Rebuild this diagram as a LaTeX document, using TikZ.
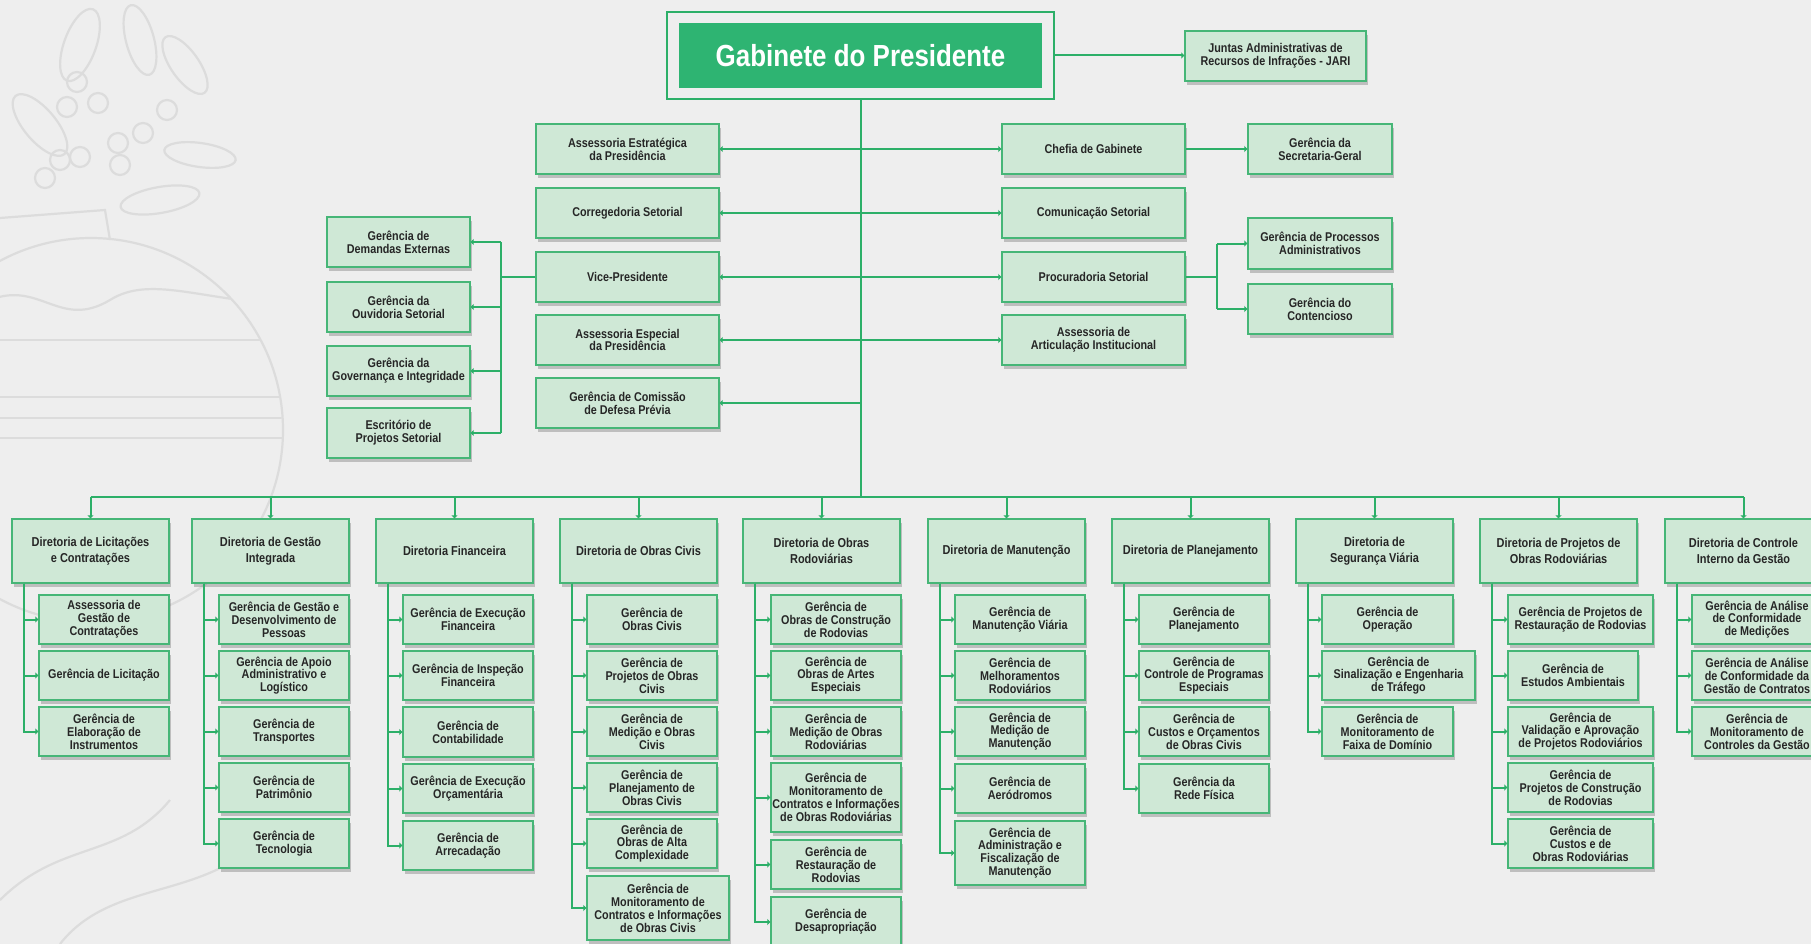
\documentclass[tikz,border=0pt]{standalone}
\usepackage{fontspec}
\setmainfont{Liberation Sans}[FakeStretch=0.85]
\usetikzlibrary{arrows.meta,shadows,calc}
\definecolor{bg}{HTML}{EEEEEE}
\definecolor{boxfill}{HTML}{CFE8D6}
\definecolor{boxline}{HTML}{46B677}
\definecolor{conn}{HTML}{2CAF68}
\definecolor{gabfill}{HTML}{2EB472}
\definecolor{txt}{HTML}{262626}
\definecolor{orn}{HTML}{DCDCDC}
\newcommand\ubox[7]{\node[#1,minimum width=#5pt,minimum height=#6pt] (#2) at ({#3+#5/2},{#4+#6/2}) {#7};}
\newcommand\spine[2]{\draw[tip] ($(#1.south west)+(13,0)$) |- (#2.west);}
\begin{document}
\begin{tikzpicture}[x=1pt,y=-1pt,
  box/.style={draw=boxline,fill=boxfill,line width=1.2pt,inner sep=0pt,align=center,text=txt,
    font=\bfseries\fontsize{12.7}{12.9}\selectfont,
    drop shadow={shadow xshift=2pt,shadow yshift=-4pt,opacity=0.2,fill=black}},
  dirbox/.style={box,font=\bfseries\fontsize{12.9}{16}\selectfont},
  link/.style={draw=conn,line width=2pt},
  tip/.style={link,-{Triangle[length=3pt,width=6pt]}},
  ornline/.style={draw=orn,line width=2.2pt}
]
\useasboundingbox (0,0) rectangle (1811,944);
\fill[bg] (0,0) rectangle (1811,944);

% faint ornament
\begin{scope}
  \draw[ornline] (91,430) circle[radius=192pt];
  \begin{scope}
    \clip (91,430) circle[radius=191pt];
    \draw[ornline] (-120,340) -- (300,340);
    \draw[ornline] (-120,397) -- (300,397);
    \draw[ornline] (-120,418) -- (300,418);
    \draw[ornline] (-120,438) -- (300,438);
    \draw[ornline] (-10,300) .. controls (40,280) and (60,330) .. (110,300) .. controls (150,275) and (200,300) .. (290,305);
  \end{scope}
  \draw[ornline] (0,218) -- (105,210) -- (110,240);
  \foreach \p in {(77,82),(98,103),(67,107),(60,160),(80,157),(118,143),(143,133),(167,110),(45,178),(120,165)}
    {\draw[ornline] \p circle[radius=10pt];}
  \draw[ornline,rotate around={-20:(80,45)}] (80,45) ellipse[x radius=16pt,y radius=38pt];
  \draw[ornline,rotate around={15:(140,40)}] (140,40) ellipse[x radius=14pt,y radius=36pt];
  \draw[ornline,rotate around={40:(40,125)}] (40,125) ellipse[x radius=16pt,y radius=38pt];
  \draw[ornline,rotate around={35:(185,65)}] (185,65) ellipse[x radius=14pt,y radius=34pt];
  \draw[ornline,rotate around={-8:(200,155)}] (200,155) ellipse[x radius=36pt,y radius=12pt];
  \draw[ornline,rotate around={10:(160,200)}] (160,200) ellipse[x radius=40pt,y radius=13pt];
  \draw[ornline] (0,900) .. controls (60,840) and (120,860) .. (170,800);
  \draw[ornline] (60,944) .. controls (110,880) and (200,900) .. (260,840);
\end{scope}

% Gabinete
\node[draw=conn,line width=1.8pt,minimum width=387pt,minimum height=87pt,inner sep=0pt] (gabf) at (860.5,55.5) {};
\node[fill=gabfill,minimum width=363pt,minimum height=65pt,inner sep=0pt,text=white,
  font=\bfseries\fontsize{30.5}{32}\selectfont] (gab) at (860.5,55.5) {Gabinete do Presidente};
\ubox{box}{jari}{1185}{31}{181}{50}{Juntas Administrativas de\\Recursos de Infrações - JARI}

% upper left column
\ubox{box}{l1}{536}{124}{183}{50}{Assessoria Estratégica\\da Presidência}
\ubox{box}{l2}{536}{188}{183}{50}{Corregedoria Setorial}
\ubox{box}{l3}{536}{252}{183}{50}{Vice-Presidente}
\ubox{box}{l4}{536}{315}{183}{50}{Assessoria Especial\\da Presidência}
\ubox{box}{l5}{536}{378}{183}{50}{Gerência de Comissão\\de Defesa Prévia}

\ubox{box}{fl1}{327}{217}{143}{50}{Gerência de\\Demandas Externas}
\ubox{box}{fl2}{327}{282}{143}{50}{Gerência da\\Ouvidoria Setorial}
\ubox{box}{fl3}{327}{346}{143}{50}{Gerência da\\Governança e Integridade}
\ubox{box}{fl4}{327}{408}{143}{50}{Escritório de\\Projetos Setorial}

% upper right column
\ubox{box}{r1}{1002}{124}{183}{50}{Chefia de Gabinete}
\ubox{box}{r2}{1002}{188}{183}{50}{Comunicação Setorial}
\ubox{box}{r3}{1002}{252}{183}{50}{Procuradoria Setorial}
\ubox{box}{r4}{1002}{315}{183}{50}{Assessoria de\\Articulação Institucional}

\ubox{box}{sg}{1248}{124}{144}{50}{Gerência da\\Secretaria-Geral}
\ubox{box}{p1}{1248}{218}{144}{51}{Gerência de Processos\\Administrativos}
\ubox{box}{p2}{1248}{284}{144}{50}{Gerência do\\Contencioso}

% directorates
\ubox{dirbox}{d1}{12}{519}{157}{64}{Diretoria de Licitações\\e Contratações}
\ubox{dirbox}{d2}{192}{519}{157}{64}{Diretoria de Gestão\\Integrada}
\ubox{dirbox}{d3}{376}{519}{157}{64}{Diretoria Financeira}
\ubox{dirbox}{d4}{560}{519}{157}{64}{Diretoria de Obras Civis}
\ubox{dirbox}{d5}{743}{519}{157}{64}{Diretoria de Obras\\Rodoviárias}
\ubox{dirbox}{d6}{928}{519}{157}{64}{Diretoria de Manutenção}
\ubox{dirbox}{d7}{1112}{519}{157}{64}{Diretoria de Planejamento}
\ubox{dirbox}{d8}{1296}{519}{157}{64}{Diretoria de\\Segurança Viária}
\ubox{dirbox}{d9}{1480}{519}{157}{64}{Diretoria de Projetos de\\Obras Rodoviárias}
\ubox{dirbox}{d10}{1665}{519}{157}{64}{Diretoria de Controle\\Interno da Gestão}

% children d1
\ubox{box}{a1}{39}{595}{130}{49}{Assessoria de\\Gestão de\\Contratações}
\ubox{box}{a2}{39}{651}{130}{49}{Gerência de Licitação}
\ubox{box}{a3}{39}{707}{130}{49}{Gerência de\\Elaboração de\\Instrumentos}
% d2
\ubox{box}{b1}{219}{595}{130}{49}{Gerência de Gestão e\\Desenvolvimento de\\Pessoas}
\ubox{box}{b2}{219}{651}{130}{49}{Gerência de Apoio\\Administrativo e\\Logístico}
\ubox{box}{b3}{219}{707}{130}{49}{Gerência de\\Transportes}
\ubox{box}{b4}{219}{763}{130}{49}{Gerência de\\Patrimônio}
\ubox{box}{b5}{219}{819}{130}{49}{Gerência de\\Tecnologia}
% d3
\ubox{box}{c1}{403}{595}{130}{49}{Gerência de Execução\\Financeira}
\ubox{box}{c2}{403}{651}{130}{49}{Gerência de Inspeção\\Financeira}
\ubox{box}{c3}{403}{707}{130}{50}{Gerência de\\Contabilidade}
\ubox{box}{c4}{403}{764}{130}{49}{Gerência de Execução\\Orçamentária}
\ubox{box}{c5}{403}{821}{130}{49}{Gerência de\\Arrecadação}
% d4
\ubox{box}{e1}{587}{595}{130}{49}{Gerência de\\Obras Civis}
\ubox{box}{e2}{587}{651}{130}{49}{Gerência de\\Projetos de Obras\\Civis}
\ubox{box}{e3}{587}{707}{130}{49}{Gerência de\\Medição e Obras\\Civis}
\ubox{box}{e4}{587}{763}{130}{49}{Gerência de\\Planejamento de\\Obras Civis}
\ubox{box}{e5}{587}{819}{130}{49}{Gerência de\\Obras de Alta\\Complexidade}
\ubox{box}{e6}{587}{876}{142}{64}{Gerência de\\Monitoramento de\\Contratos e Informações\\de Obras Civis}
% d5
\ubox{box}{f1}{771}{595}{130}{49}{Gerência de\\Obras de Construção\\de Rodovias}
\ubox{box}{f2}{771}{651}{130}{49}{Gerência de\\Obras de Artes\\Especiais}
\ubox{box}{f3}{771}{707}{130}{49}{Gerência de\\Medição de Obras\\Rodoviárias}
\ubox{box}{f4}{771}{763}{130}{69}{Gerência de\\Monitoramento de\\Contratos e Informações\\de Obras Rodoviárias}
\ubox{box}{f5}{771}{840}{130}{49}{Gerência de\\Restauração de\\Rodovias}
\ubox{box}{f6}{771}{897}{130}{50}{Gerência de\\Desapropriação}
% d6
\ubox{box}{g1}{955}{595}{130}{49}{Gerência de\\Manutenção Viária}
\ubox{box}{g2}{955}{651}{130}{49}{Gerência de\\Melhoramentos\\Rodoviários}
\ubox{box}{g3}{955}{707}{130}{49}{Gerência de\\Medição de\\Manutenção}
\ubox{box}{g4}{955}{764}{130}{49}{Gerência de\\Aeródromos}
\ubox{box}{g5}{955}{821}{130}{64}{Gerência de\\Administração e\\Fiscalização de\\Manutenção}
% d7
\ubox{box}{h1}{1139}{595}{130}{49}{Gerência de\\Planejamento}
\ubox{box}{h2}{1139}{651}{130}{49}{Gerência de\\Controle de Programas\\Especiais}
\ubox{box}{h3}{1139}{707}{130}{49}{Gerência de\\Custos e Orçamentos\\de Obras Civis}
\ubox{box}{h4}{1139}{764}{130}{49}{Gerência da\\Rede Física}
% d8
\ubox{box}{i1}{1322}{595}{131}{49}{Gerência de\\Operação}
\ubox{box}{i2}{1322}{651}{153}{49}{Gerência de\\Sinalização e Engenharia\\de Tráfego}
\ubox{box}{i3}{1322}{707}{131}{49}{Gerência de\\Monitoramento de\\Faixa de Domínio}
% d9
\ubox{box}{j1}{1508}{595}{145}{49}{Gerência de Projetos de\\Restauração de Rodovias}
\ubox{box}{j2}{1508}{651}{130}{49}{Gerência de\\Estudos Ambientais}
\ubox{box}{j3}{1508}{707}{145}{49}{Gerência de\\Validação e Aprovação\\de Projetos Rodoviários}
\ubox{box}{j4}{1508}{763}{145}{49}{Gerência de\\Projetos de Construção\\de Rodovias}
\ubox{box}{j5}{1508}{819}{145}{49}{Gerência de\\Custos e de\\Obras Rodoviárias}
% d10
\ubox{box}{k1}{1692}{595}{130}{49}{Gerência de Análise\\de Conformidade\\de Medições}
\ubox{box}{k2}{1692}{651}{130}{49}{Gerência de Análise\\de Conformidade da\\Gestão de Contratos}
\ubox{box}{k3}{1692}{707}{130}{49}{Gerência de\\Monitoramento de\\Controles da Gestão}

% connectors: top
\draw[tip] (gabf.east) -- (gabf.east -| jari.west);
\coordinate (busy) at (0,497);
\draw[link] (gabf.south) -- (gabf.south |- busy);
\foreach \n in {l1,l2,l3,l4,l5} {\draw[tip] (gabf.south |- \n.east) -- (\n.east);}
\foreach \n in {r1,r2,r3,r4} {\draw[tip] (gabf.south |- \n.west) -- (\n.west);}
\draw[tip] (r1.east) -- (r1.east -| sg.west);
\coordinate (lb) at (501,0);
\draw[link] (l3.west) -- (lb |- l3.west);
\draw[link] (lb |- fl1.east) -- (lb |- fl4.east);
\foreach \n in {fl1,fl2,fl3,fl4} {\draw[tip] (lb |- \n.east) -- (\n.east);}
\coordinate (rb) at (1217,0);
\draw[link] (r3.east) -- (rb |- r3.east);
\draw[link] (rb |- p1.west) -- (rb |- p2.west);
\foreach \n in {p1,p2} {\draw[tip] (rb |- \n.west) -- (\n.west);}

% bus
\draw[link] (d1.north |- busy) -- (d10.north |- busy);
\foreach \n in {d1,d2,d3,d4,d5,d6,d7,d8,d9,d10} {\draw[tip] (\n.north |- busy) -- (\n.north);}

% spines
\foreach \c in {a1,a2,a3} {\spine{d1}{\c}}
\foreach \c in {b1,b2,b3,b4,b5} {\spine{d2}{\c}}
\foreach \c in {c1,c2,c3,c4,c5} {\spine{d3}{\c}}
\foreach \c in {e1,e2,e3,e4,e5,e6} {\spine{d4}{\c}}
\foreach \c in {f1,f2,f3,f4,f5,f6} {\spine{d5}{\c}}
\foreach \c in {g1,g2,g3,g4,g5} {\spine{d6}{\c}}
\foreach \c in {h1,h2,h3,h4} {\spine{d7}{\c}}
\foreach \c in {i1,i2,i3} {\spine{d8}{\c}}
\foreach \c in {j1,j2,j3,j4,j5} {\spine{d9}{\c}}
\foreach \c in {k1,k2,k3} {\spine{d10}{\c}}
\end{tikzpicture}
\end{document}
